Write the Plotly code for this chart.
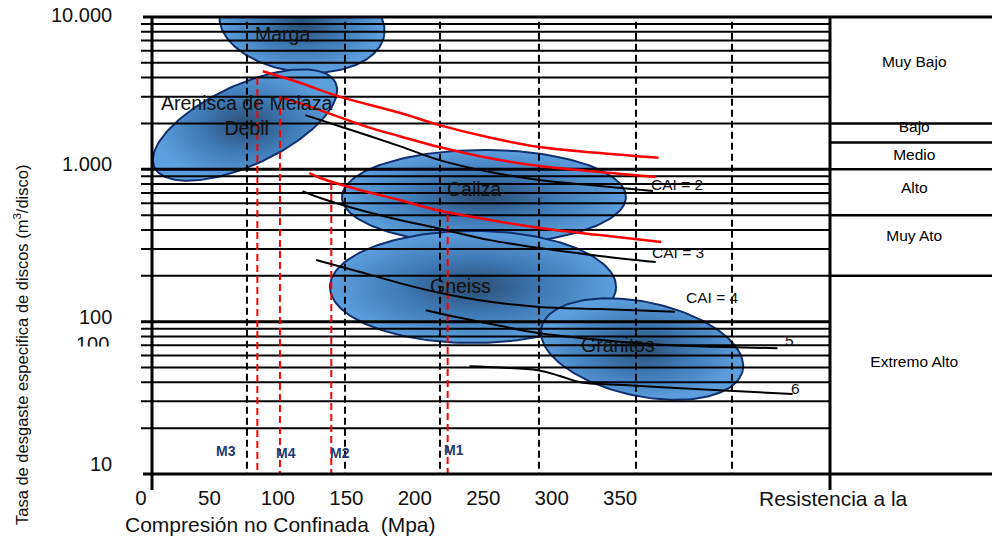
import numpy as np
import plotly.graph_objects as go

# ---------------- data ----------------
ucs_ticks = [0, 50, 100, 150, 200, 250, 300, 350]
rate_ticks = [10, 100, 1000, 10000]
rate_tick_text = ["10", "100", "1.000", "10.000"]

# red limit curves (UCS MPa, m3/disco)
red1_x = [89, 116, 145, 189, 218, 253, 291, 335, 378]
red1_y = [4400, 3700, 3000, 2350, 1950, 1630, 1400, 1280, 1190]
red2_x = [101, 116, 145, 165, 189, 218, 253, 291, 335, 376]
red2_y = [2980, 2720, 2200, 1900, 1650, 1400, 1190, 1050, 960, 890]
red3_x = [123, 131, 160, 189, 216, 255, 291, 335, 380]
red3_y = [946, 877, 731, 629, 541, 465, 412, 370, 333]

# CAI curves
cai2_x = [120, 145, 189, 218, 255, 291, 335, 374]
cai2_y = [2270, 1920, 1420, 1150, 960, 850, 777, 720]
cai3_x = [118, 131, 160, 189, 216, 255, 291, 335, 376]
cai3_y = [720, 648, 541, 465, 412, 343, 304, 270, 246]
cai4_x = [128, 160, 189, 216, 255, 291, 335, 390]
cai4_y = [254, 212, 179, 156, 135, 125, 121, 116]
cai5_x = [208, 233, 262, 291, 335, 365, 408, 465]
cai5_y = [119, 106, 94, 84, 76, 72, 69, 67]
cai6_x = [240, 262, 290, 306, 321, 362, 408, 476]
cai6_y = [51, 50, 48, 44, 40, 38, 36, 33.5]

cai_labels = ["CAI = 2", "CAI = 3", "CAI = 4", "5", "6"]
cai_label_x = [371, 372, 397, 474, 478]
cai_label_y = [801, 286, 145, 75.7, 36.6]
cai_label_anchor = ["left", "left", "left", "center", "center"]

# rock type regions
rocks = ["Marga", "Arenisca de Melaza<br>Debil", "Caliza", "Gneiss", "Granitos"]
rock_ucs = [117.6, 76, 250.5, 242.5, 366]
rock_rate = [8995, 1954, 658, 169, 66.1]
rock_half_ucs = [60.6, 73, 103.7, 104.5, 75.2]
rock_half_dec = [0.315, 0.263, 0.309, 0.368, 0.309]
rock_angle = [-7, 25, 0, 0, -12]
rock_label_x = [103.7, 77.4, 243.2, 233.7, 348.4]
rock_label_y = [7733, 2272, 742, 171, 70.2]

# machines (UCS of tunnel sections)
mach_names = ["M3", "M4", "M2", "M1"]
mach_ucs = [85, 101.5, 139, 224]
mach_top = [3975, 2985, 813, 501]
mach_label_x = [62, 106, 145.4, 228.6]
mach_label_y = [14.1, 13.7, 13.7, 14.3]

# black dashed reference lines
ref_ucs = [77.4, 149, 218.4, 290.7, 361.6, 431.7]

# wear classes (right panel)
class_bounds = [10000, 2000, 1500, 1000, 500, 200, 10]
class_names = ["Muy Bajo", "Bajo", "Medio", "Alto", "Muy Ato", "Extremo Alto"]
class_label_y = [4990, 1867, 1223, 742, 359, 53.5]

# ---------------- layout constants ----------------
W, H = 992, 542
X_DOM = [141 / W, 830 / W]
Y_DOM = [(H - 474) / H, (H - 17) / H]
X_RANGE = [0, 503.3]
Y_RANGE = [1, 4]
px_per_mpa = (X_DOM[1] - X_DOM[0]) * W / (X_RANGE[1] - X_RANGE[0])
px_per_dec = (Y_DOM[1] - Y_DOM[0]) * H / (Y_RANGE[1] - Y_RANGE[0])
FONT = "Liberation Sans, Arial, sans-serif"

fig = go.Figure()

# ellipses
t = np.linspace(0, 2 * np.pi, 181)
for i in range(len(rocks)):
    a = rock_half_ucs[i] * px_per_mpa
    b = rock_half_dec[i] * px_per_dec
    th = np.deg2rad(rock_angle[i])
    u = a * np.cos(t)
    v = b * np.sin(t)
    ur = u * np.cos(th) - v * np.sin(th)
    vr = u * np.sin(th) + v * np.cos(th)
    xs = rock_ucs[i] + ur / px_per_mpa
    ys = 10 ** (np.log10(rock_rate[i]) + vr / px_per_dec)
    fig.add_trace(go.Scatter(
        x=xs, y=ys, mode="lines", fill="toself",
        fillgradient=dict(type="radial",
                          colorscale=[[0, "#2a4d74"], [0.5, "#3f7ab5"], [1, "#5d9fdd"]]),
        line=dict(color="#112f6e", width=2),
        hoverinfo="skip", showlegend=False))

# horizontal grid lines (log minor + major)
minor_vals = [d * 10 ** e for e in range(1, 4) for d in range(2, 10)]
major_vals = [10 ** e for e in range(2, 4)]
def hlines(vals):
    xs, ys = [], []
    for v in vals:
        xs += [X_RANGE[0], X_RANGE[1], None]
        ys += [v, v, None]
    return xs, ys
gx, gy = hlines(minor_vals)
fig.add_trace(go.Scatter(x=gx, y=gy, mode="lines", line=dict(color="black", width=2),
                         hoverinfo="skip", showlegend=False))
gx, gy = hlines(major_vals)
fig.add_trace(go.Scatter(x=gx, y=gy, mode="lines", line=dict(color="black", width=3),
                         hoverinfo="skip", showlegend=False))

# black dashed verticals
vx, vy = [], []
for v in ref_ucs:
    vx += [v, v, None]
    vy += [9300, 10, None]
fig.add_trace(go.Scatter(x=vx, y=vy, mode="lines",
                         line=dict(color="black", width=2, dash="7px,4px"),
                         hoverinfo="skip", showlegend=False))
# red dashed verticals
vx, vy = [], []
for v, top in zip(mach_ucs, mach_top):
    vx += [v, v, None]
    vy += [top, 10, None]
fig.add_trace(go.Scatter(x=vx, y=vy, mode="lines",
                         line=dict(color="#ff0000", width=2, dash="7px,4px"),
                         hoverinfo="skip", showlegend=False))

for xs, ys in [(cai2_x, cai2_y), (cai3_x, cai3_y), (cai4_x, cai4_y),
               (cai5_x, cai5_y), (cai6_x, cai6_y)]:
    fig.add_trace(go.Scatter(x=xs, y=ys, mode="lines", line=dict(color="black", width=2, shape="spline"),
                             hoverinfo="skip", showlegend=False))
for xs, ys in [(red1_x, red1_y), (red2_x, red2_y), (red3_x, red3_y)]:
    fig.add_trace(go.Scatter(x=xs, y=ys, mode="lines", line=dict(color="#ff0000", width=2.5, shape="spline"),
                             hoverinfo="skip", showlegend=False))

# right panel (wear classes)
px_, py_ = [], []
for v in class_bounds[1:-1]:
    px_ += [0, 1, None]
    py_ += [v, v, None]
fig.add_trace(go.Scatter(x=px_, y=py_, xaxis="x2", yaxis="y", mode="lines",
                         line=dict(color="black", width=2.5), hoverinfo="skip", showlegend=False))
fig.add_trace(go.Scatter(x=[0.52] * len(class_names), y=class_label_y, xaxis="x2", yaxis="y",
                         mode="text", text=class_names,
                         textfont=dict(family=FONT, size=15.5, color="black"),
                         hoverinfo="skip", showlegend=False))

ann = []
# rock labels
for name, x, y in zip(rocks, rock_label_x, rock_label_y):
    ann.append(dict(x=x, y=np.log10(y), xref="x", yref="y", text=name, showarrow=False,
                    xanchor="center", yanchor="middle",
                    font=dict(family=FONT, size=19.5, color="#111")))
# CAI labels
for name, x, y, anc in zip(cai_labels, cai_label_x, cai_label_y, cai_label_anchor):
    ann.append(dict(x=x, y=np.log10(y), xref="x", yref="y", text=name, showarrow=False,
                    xanchor=anc, yanchor="middle", font=dict(family=FONT, size=15.5, color="#111")))
# machine labels
for name, x, y in zip(mach_names, mach_label_x, mach_label_y):
    ann.append(dict(x=x, y=np.log10(y), xref="x", yref="y", text="<b>%s</b>" % name, showarrow=False,
                    xanchor="center", yanchor="middle",
                    font=dict(family=FONT, size=14, color="#1f3a72")))
# y tick labels
shifts = [10, 5, 5.5, 2.5]
for v, txt, s in zip(rate_ticks, rate_tick_text, shifts):
    ann.append(dict(x=114 / W, y=np.log10(v), xref="paper", yref="y", text=txt, showarrow=False,
                    xanchor="right", yanchor="middle", yshift=s,
                    font=dict(family=FONT, size=20, color="#111")))
# duplicated, half hidden "100"
ann.append(dict(x=111 / W, y=2, xref="paper", yref="y", text="100", showarrow=False,
                xanchor="right", yanchor="middle", yshift=-22,
                font=dict(family=FONT, size=20, color="#111")))
ann.append(dict(x=122 / W, y=2, xref="paper", yref="y", text=" ", showarrow=False,
                xanchor="right", yanchor="middle", yshift=-33, width=44, height=14,
                bgcolor="white"))
# axis texts
ann.append(dict(x=833 / W, y=(H - 498) / H, xref="paper", yref="paper", text="Resistencia a la",
                showarrow=False, xanchor="center", yanchor="middle",
                font=dict(family=FONT, size=21, color="#111")))
ann.append(dict(x=280 / W, y=(H - 524) / H, xref="paper", yref="paper",
                text="Compresión no Confinada\u00a0 (Mpa)", showarrow=False,
                xanchor="center", yanchor="middle",
                font=dict(family=FONT, size=21, color="#111")))
ann.append(dict(x=21 / W, y=(H - 345) / H, xref="paper", yref="paper", textangle=-90,
                text="Tasa de desgaste especifica de discos (m<sup>3</sup>/disco)", showarrow=False,
                xanchor="center", yanchor="middle",
                font=dict(family=FONT, size=16.5, color="#111")))

shapes = []
# frame lines
shapes.append(dict(type="line", xref="paper", yref="paper", x0=143 / W, x1=1, y0=Y_DOM[1], y1=Y_DOM[1],
                   line=dict(color="black", width=3), layer="above"))
shapes.append(dict(type="line", xref="paper", yref="paper", x0=143 / W, x1=1, y0=Y_DOM[0], y1=Y_DOM[0],
                   line=dict(color="black", width=3), layer="above"))
shapes.append(dict(type="line", xref="paper", yref="paper", x0=152 / W, x1=152 / W,
                   y0=(H - 490) / H, y1=Y_DOM[1], line=dict(color="black", width=3), layer="above"))
shapes.append(dict(type="line", xref="paper", yref="paper", x0=830 / W, x1=830 / W,
                   y0=(H - 490) / H, y1=Y_DOM[1], line=dict(color="black", width=3), layer="above"))

fig.update_layout(
    width=W, height=H, margin=dict(l=0, r=0, t=0, b=0),
    paper_bgcolor="white", plot_bgcolor="white",
    showlegend=False,
    xaxis=dict(domain=X_DOM, range=X_RANGE, showgrid=False, zeroline=False, showline=False,
               tickvals=ucs_ticks, ticktext=[str(v) for v in ucs_ticks], ticks="",
               ticklabelstandoff=9, automargin=False,
               tickfont=dict(family=FONT, size=20.5, color="#111")),
    xaxis2=dict(domain=[830 / W, 1], range=[0, 1], anchor="y", visible=False, fixedrange=True),
    yaxis=dict(domain=Y_DOM, type="log", range=Y_RANGE, showgrid=False, zeroline=False,
               showline=False, showticklabels=False, ticks="", automargin=False),
)
fig.update_layout(annotations=ann, shapes=shapes)

fig.write_html("out.html", config={"displayModeBar": False},
               post_script="document.body.style.margin='0';")
